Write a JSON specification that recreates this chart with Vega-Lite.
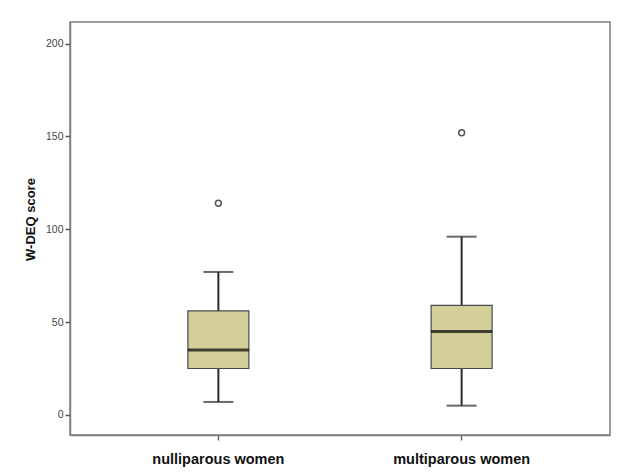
{
  "$schema": "https://vega.github.io/schema/vega-lite/v6.json",
  "width": 540,
  "height": 413,
  "autosize": {"type": "none"},
  "padding": {"left": 70, "top": 22, "right": 8, "bottom": 40},
  "background": "white",
  "config": {
    "view": {"stroke": "#808080", "strokeWidth": 1.5},
    "font": "Liberation Sans"
  },
  "data": {
    "values": [
      {"group": "nulliparous women", "lower": 7, "q1": 25, "median": 35, "q3": 56, "upper": 77, "outlier": 114},
      {"group": "multiparous women", "lower": 5, "q1": 25, "median": 45, "q3": 59, "upper": 96, "outlier": 152}
    ]
  },
  "encoding": {
    "x": {
      "field": "group",
      "type": "nominal",
      "sort": ["nulliparous women", "multiparous women"],
      "scale": {"type": "band", "paddingInner": 0, "paddingOuter": 0.11},
      "axis": {
        "title": null,
        "labelAngle": 0,
        "labelFontSize": 14.5,
        "labelFontWeight": "bold",
        "labelColor": "#111111",
        "labelPadding": 12,
        "tickSize": 5,
        "tickColor": "#666666",
        "tickWidth": 1.5,
        "domainColor": "#808080",
        "domainWidth": 1.5
      }
    }
  },
  "layer": [
    {
      "mark": {"type": "rule", "color": "#2a2a2a", "strokeWidth": 2},
      "encoding": {
        "y": {
          "field": "lower",
          "type": "quantitative",
          "scale": {"domain": [-10.8, 211.6], "nice": false, "zero": false},
          "axis": {
            "title": "W-DEQ score",
            "values": [0, 50, 100, 150, 200],
            "grid": false,
            "labelFontSize": 10.5,
            "labelColor": "#444444",
            "labelPadding": 2,
            "tickSize": 5,
            "tickColor": "#555555",
            "tickWidth": 1.5,
            "domainColor": "#808080",
            "domainWidth": 1.5,
            "titleFontSize": 13,
            "titleFontWeight": "bold",
            "titleColor": "#111111",
            "titleX": -40,
            "titleY": 197,
            "titleAngle": -90,
            "titleAlign": "center",
            "titleBaseline": "middle"
          }
        },
        "y2": {"field": "upper"}
      }
    },
    {
      "mark": {"type": "tick", "color": "#2a2a2a", "thickness": 2, "size": 30, "orient": "horizontal"},
      "encoding": {"y": {"field": "lower", "type": "quantitative"}}
    },
    {
      "mark": {"type": "tick", "color": "#2a2a2a", "thickness": 2, "size": 30, "orient": "horizontal"},
      "encoding": {"y": {"field": "upper", "type": "quantitative"}}
    },
    {
      "mark": {"type": "bar", "size": 61, "fill": "#d3cf9a", "stroke": "#4a4a4a", "strokeWidth": 1.2},
      "encoding": {
        "y": {"field": "q1", "type": "quantitative"},
        "y2": {"field": "q3"}
      }
    },
    {
      "mark": {"type": "tick", "color": "#000000", "thickness": 3, "size": 61, "orient": "horizontal"},
      "encoding": {"y": {"field": "median", "type": "quantitative"}}
    },
    {
      "mark": {"type": "point", "shape": "circle", "filled": false, "color": "#555555", "strokeWidth": 1.5, "size": 35, "opacity": 1},
      "encoding": {"y": {"field": "outlier", "type": "quantitative"}}
    }
  ]
}
